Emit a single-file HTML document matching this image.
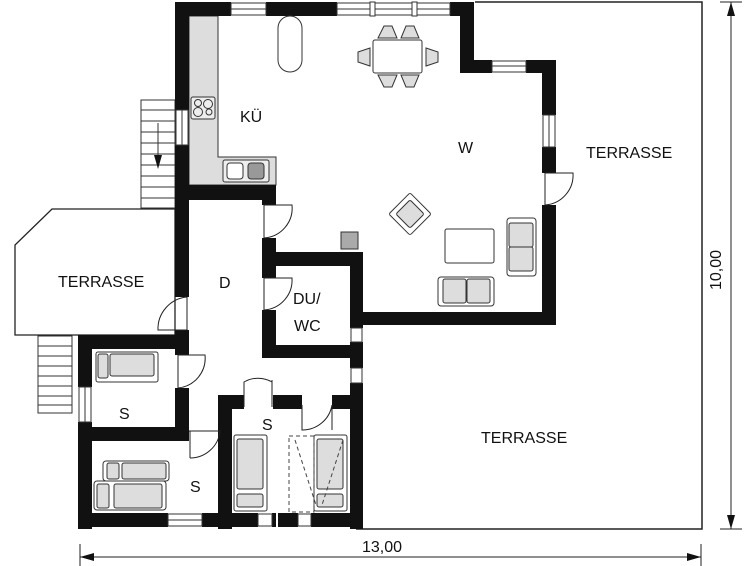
<!DOCTYPE html>
<html><head><meta charset="utf-8"><style>
html,body{margin:0;padding:0;background:#fff;}
svg{display:block;}
text{font-family:"Liberation Sans",sans-serif;fill:#111;}
</style></head><body>
<svg width="755" height="566" viewBox="0 0 755 566" xmlns="http://www.w3.org/2000/svg">
<!-- terraces -->
<polyline points="475,2 702,2 702,529 356,529" fill="none" stroke="#222" stroke-width="1.5"/>
<polygon points="52,209 175,209 175,335 15,335 15,245" fill="#fff" stroke="#222" stroke-width="1.3"/>
<!-- stairs -->
<g fill="#fff" stroke="#333" stroke-width="1">
<rect x="141" y="100" width="34" height="108"/>
<line x1="141" y1="110" x2="175" y2="110"/><line x1="141" y1="121" x2="175" y2="121"/><line x1="141" y1="132" x2="175" y2="132"/><line x1="141" y1="143" x2="175" y2="143"/><line x1="141" y1="154" x2="175" y2="154"/><line x1="141" y1="165" x2="175" y2="165"/><line x1="141" y1="176" x2="175" y2="176"/><line x1="141" y1="187" x2="175" y2="187"/><line x1="141" y1="198" x2="175" y2="198"/>
<line x1="158" y1="123" x2="158" y2="160"/>
<rect x="38" y="336" width="34" height="77"/>
<line x1="38" y1="346" x2="72" y2="346"/><line x1="38" y1="356" x2="72" y2="356"/><line x1="38" y1="366" x2="72" y2="366"/><line x1="38" y1="376" x2="72" y2="376"/><line x1="38" y1="386" x2="72" y2="386"/><line x1="38" y1="396" x2="72" y2="396"/><line x1="38" y1="405" x2="72" y2="405"/>
</g>
<polygon points="154,155 162,155 158,169" fill="#111"/>
<!-- kitchen counter -->
<path d="M189,16 H218 V157 H276 V185 H189 Z" fill="#ddd" stroke="#333" stroke-width="1"/>
<rect x="191" y="97" width="24" height="22" rx="2" fill="#eee" stroke="#333"/>
<circle cx="198" cy="103" r="3.5" fill="none" stroke="#333"/><circle cx="208" cy="104" r="4.5" fill="none" stroke="#333"/><circle cx="198" cy="112" r="4.5" fill="none" stroke="#333"/><circle cx="209" cy="112" r="3" fill="none" stroke="#333"/>
<rect x="223" y="160" width="46" height="22" rx="2" fill="#eee" stroke="#333"/>
<rect x="227" y="163" width="16" height="16" rx="3" fill="#fff" stroke="#333"/>
<rect x="248" y="163" width="16" height="16" rx="3" fill="#999" stroke="#333"/>
<!-- walls -->
<g fill="#111">
<rect x="175" y="2" width="14" height="108"/>
<rect x="175" y="145" width="14" height="152"/>
<rect x="175" y="330" width="14" height="25"/>
<rect x="175" y="388" width="14" height="53"/>
<rect x="175" y="2" width="56" height="14"/>
<rect x="266" y="2" width="71" height="14"/>
<rect x="450" y="2" width="24" height="14"/>
<rect x="460" y="2" width="14" height="71"/>
<rect x="460" y="60" width="32" height="13"/>
<rect x="526" y="60" width="30" height="13"/>
<rect x="542" y="60" width="14" height="55"/>
<rect x="542" y="147" width="14" height="26"/>
<rect x="542" y="205" width="14" height="120"/>
<rect x="350" y="312" width="206" height="13"/>
<rect x="189" y="185" width="87" height="15"/>
<rect x="262" y="185" width="14" height="20"/>
<rect x="262" y="238" width="14" height="40"/>
<rect x="262" y="310" width="14" height="48"/>
<rect x="262" y="252" width="101" height="14"/>
<rect x="350" y="252" width="13" height="76"/>
<rect x="262" y="345" width="101" height="13"/>
<rect x="350" y="342" width="13" height="26"/>
<rect x="350" y="383" width="13" height="146"/>
<rect x="78" y="335" width="111" height="14"/>
<rect x="78" y="335" width="14" height="52"/>
<rect x="78" y="422" width="14" height="107"/>
<rect x="78" y="427" width="111" height="14"/>
<rect x="218" y="395" width="14" height="134"/>
<rect x="218" y="395" width="26" height="14"/>
<rect x="273" y="395" width="29" height="14"/>
<rect x="332" y="395" width="31" height="14"/>
<rect x="78" y="513" width="90" height="14"/>
<rect x="202" y="513" width="56" height="14"/>
<rect x="272" y="513" width="4" height="14"/>
<rect x="278" y="513" width="20" height="14"/>
<rect x="311" y="513" width="52" height="14"/>
</g>
<!-- windows -->
<g fill="#fff" stroke="#333" stroke-width="1">
<rect x="231" y="3" width="35" height="12"/><line x1="231" y1="9" x2="266" y2="9"/>
<rect x="337" y="3" width="113" height="12"/><line x1="337" y1="9" x2="450" y2="9"/>
<rect x="370" y="2" width="5" height="14"/><rect x="412" y="2" width="5" height="14"/>
<rect x="492" y="61" width="34" height="11"/><line x1="492" y1="66" x2="526" y2="66"/>
<rect x="543" y="115" width="12" height="32"/><line x1="549" y1="115" x2="549" y2="147"/>
<rect x="176" y="110" width="12" height="35"/><line x1="182" y1="110" x2="182" y2="145"/>
<rect x="79" y="387" width="12" height="35"/><line x1="85" y1="387" x2="85" y2="422"/>
<rect x="351" y="328" width="11" height="14"/><rect x="351" y="368" width="11" height="15"/>
<rect x="168" y="514" width="34" height="12"/><line x1="168" y1="520" x2="202" y2="520"/>
<rect x="258" y="514" width="14" height="12"/><rect x="298" y="514" width="13" height="12"/>
</g>
<!-- doors -->
<g fill="none" stroke="#222" stroke-width="1">
<path d="M264,205 H292 A30,30 0 0 1 264,238"/><line x1="264" y1="205" x2="264" y2="238"/>
<path d="M264,278 H292 A30,30 0 0 1 264,310"/><line x1="264" y1="278" x2="264" y2="310"/>
<path d="M187,297 A32,32 0 0 0 158,330 H187"/><line x1="187" y1="297" x2="187" y2="330"/>
<path d="M178,355 H205 A30,30 0 0 1 178,388"/><line x1="178" y1="355" x2="178" y2="388"/>
<path d="M545,173 H573 A30,30 0 0 1 545,205"/><line x1="545" y1="173" x2="545" y2="205"/>
<path d="M189,431 H220 A30,30 0 0 1 190,458"/><line x1="190" y1="431" x2="190" y2="458"/>
<path d="M244,407 V382 A28,28 0 0 1 272,382 V407"/><line x1="272" y1="380" x2="272" y2="407"/>
<path d="M302,405 V430 A30,30 0 0 0 332,405"/><line x1="332" y1="405" x2="332" y2="430"/>
</g>
<!-- furniture W -->
<g stroke="#333" stroke-width="1">
<rect x="278" y="16" width="24" height="56" rx="12" fill="#fff"/>
<rect x="373" y="40" width="49" height="33" rx="2" fill="#fff"/>
<path d="M378,38 L384,26 H392 L397,38 Z" fill="#ddd"/><path d="M401,38 L406,26 H414 L419,38 Z" fill="#ddd"/>
<path d="M378,75 L384,87 H392 L397,75 Z" fill="#ddd"/><path d="M401,75 L406,87 H414 L419,75 Z" fill="#ddd"/>
<path d="M370,48 L358,52 V62 L370,66 Z" fill="#ddd"/><path d="M426,48 L438,52 V62 L426,66 Z" fill="#ddd"/>
<rect x="395" y="199" width="30" height="30" transform="rotate(45 410 214)" rx="2" fill="#fff"/>
<rect x="400" y="204" width="20" height="20" transform="rotate(45 410 214)" rx="2" fill="#ddd"/>
<rect x="445" y="229" width="49" height="34" rx="2" fill="#fff"/>
<rect x="507" y="218" width="29" height="58" rx="3" fill="#fff"/>
<rect x="509" y="223" width="24" height="24" rx="2" fill="#ddd"/><rect x="509" y="247" width="24" height="24" rx="2" fill="#ddd"/>
<rect x="438" y="277" width="56" height="29" rx="3" fill="#fff"/>
<rect x="443" y="279" width="23" height="24" rx="2" fill="#ddd"/><rect x="467" y="279" width="23" height="24" rx="2" fill="#ddd"/>
<rect x="341" y="232" width="17" height="17" fill="#aaa"/>
<!-- beds -->
<rect x="96" y="352" width="62" height="30" rx="2" fill="#fff"/>
<rect x="98" y="354" width="10" height="24" rx="2" fill="#ddd"/><rect x="110" y="354" width="44" height="22" rx="2" fill="#ddd"/>
<rect x="103" y="461" width="66" height="20" rx="3" fill="#fff"/>
<rect x="107" y="463" width="12" height="16" rx="2" fill="#ddd"/><rect x="122" y="463" width="44" height="16" rx="2" fill="#ddd"/>
<rect x="94" y="481" width="72" height="29" rx="3" fill="#fff"/>
<rect x="97" y="484" width="12" height="24" rx="2" fill="#ddd"/><rect x="114" y="484" width="48" height="24" rx="2" fill="#ddd"/>
<rect x="234" y="435" width="33" height="76" rx="2" fill="#fff"/>
<rect x="237" y="439" width="26" height="50" rx="2" fill="#ddd"/><rect x="237" y="494" width="26" height="13" rx="2" fill="#ddd"/>
<rect x="314" y="435" width="33" height="76" rx="2" fill="#fff"/>
<rect x="317" y="439" width="26" height="50" rx="2" fill="#ddd"/><rect x="317" y="494" width="26" height="13" rx="2" fill="#ddd"/>
</g>
<rect x="289" y="436" width="25" height="76" fill="none" stroke="#444" stroke-dasharray="4,3"/>
<line x1="295" y1="440" x2="316" y2="505" stroke="#444" stroke-dasharray="4,3"/>
<line x1="343" y1="440" x2="322" y2="505" stroke="#444" stroke-dasharray="4,3"/>
<!-- labels -->
<g font-size="16">
<text x="240" y="122">KÜ</text>
<text x="458" y="153">W</text>
<text x="586" y="158">TERRASSE</text>
<text x="58" y="287">TERRASSE</text>
<text x="219" y="288">D</text>
<text x="293" y="304">DU/</text>
<text x="294" y="331">WC</text>
<text x="119" y="419">S</text>
<text x="262" y="430">S</text>
<text x="190" y="492">S</text>
<text x="481" y="443">TERRASSE</text>
<text x="362" y="552">13,00</text>
<text transform="translate(721,290) rotate(-90)">10,00</text>
</g>
<!-- dimensions -->
<g stroke="#222" stroke-width="1">
<line x1="80" y1="557" x2="701" y2="557"/>
<line x1="80" y1="544" x2="80" y2="566"/><line x1="701" y1="544" x2="701" y2="566"/>
<line x1="731" y1="2" x2="731" y2="529"/>
<line x1="720" y1="2" x2="742" y2="2"/><line x1="720" y1="529" x2="742" y2="529"/>
</g>
<polygon points="80,557 94,553 94,561" fill="#111"/>
<polygon points="701,557 687,553 687,561" fill="#111"/>
<polygon points="731,2 727,16 735,16" fill="#111"/>
<polygon points="731,529 727,515 735,515" fill="#111"/>
</svg>
</body></html>
